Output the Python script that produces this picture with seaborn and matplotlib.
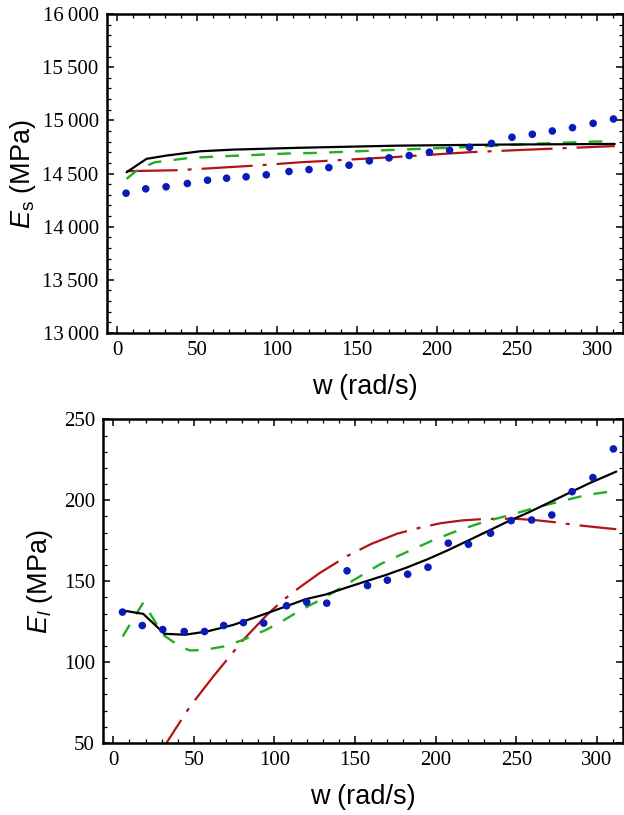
import matplotlib
matplotlib.use("Agg")
import matplotlib.pyplot as plt
from matplotlib.ticker import MultipleLocator, FuncFormatter
import seaborn as sns

# --- DATA ---
# measured frequencies (rad/s) for the experimental points
w_points = [5.7, 18.0, 30.7, 44.0, 56.6, 68.5, 80.7, 93.3, 107.5, 120.0, 132.4, 145.0, 157.7,
            170.0, 182.6, 195.2, 207.8, 220.3, 234.0, 246.8, 259.5, 272.0, 284.6, 297.5, 310.2]

# storage modulus Es (MPa)
es_points = [14315, 14356, 14375, 14406, 14437, 14456, 14469, 14488, 14519, 14537, 14556, 14578, 14619,
             14647, 14669, 14700, 14719, 14747, 14783, 14841, 14869, 14900, 14931, 14972, 15013]
es_black_w = [6, 18.5, 31, 52, 73, 114, 175, 239, 311]
es_black = [14512, 14638, 14669, 14709, 14725, 14742, 14762, 14772, 14778]
es_green_w = [6, 13.3, 23.7, 45.5, 66, 106, 125, 183, 220, 260, 298, 304]
es_green = [14450, 14538, 14606, 14647, 14662, 14688, 14694, 14728, 14750, 14779, 14800, 14802]
es_red_w = [6, 38, 87, 114, 176, 220, 250, 311]
es_red = [14522, 14531, 14575, 14605, 14657, 14700, 14720, 14758]

# loss modulus El (MPa)
el_points = [130.9, 122.6, 120.1, 118.9, 118.9, 122.6, 124.4, 124.1, 134.8, 137.0, 136.4, 156.4, 147.3,
             150.6, 154.3, 158.6, 173.5, 172.8, 179.6, 187.4, 187.8, 190.9, 205.3, 214.0, 231.7]
el_black_w = [5.8, 18.6, 31.7, 44.5, 58, 74.5, 95.3, 106.8, 119.4, 131.9, 144.5, 157, 169.6, 182.2,
              194.8, 207.3, 219.9, 232.5, 245, 257.6, 270.2, 282.7, 295.3, 312]
el_black = [131.9, 129.8, 117.5, 116.9, 118.9, 123.0, 130.2, 134.3, 138.9, 141.8, 146.0, 150.0, 154.0, 158.5,
            163.5, 169.0, 175.0, 181.0, 187.0, 192.5, 198.5, 204.5, 210.5, 217.7]
el_green_w = [5.8, 18.6, 31, 41.4, 47.6, 56, 68.3, 80.7, 95, 106, 116, 130.4, 148, 165.6, 182, 198.8,
              213, 228, 250, 263, 278, 294, 312]
el_green = [115.8, 136.8, 116.8, 109.6, 107.2, 107.5, 109.6, 113.8, 120.0, 126.0, 132.0, 139.5, 150.0, 160.5,
            168.0, 175.5, 181.0, 186.0, 192.0, 195.7, 199.5, 203.3, 206.0]
el_red_w = [25, 33.2, 47.6, 62, 80.7, 95.3, 105, 116, 128, 145, 160, 176, 190, 203, 216, 228, 240, 250,
            261, 274, 286, 299, 312]
el_red = [37.7, 50.4, 72.6, 91.1, 113.8, 129.2, 138.0, 146.5, 155.0, 165.5, 173.0, 179.3, 183.0, 185.8,
          187.5, 188.3, 188.6, 188.5, 187.8, 186.4, 184.8, 183.4, 182.1]

BLUE = "#0a1cb8"
GREEN = "#22ad22"
RED = "#b01414"

# --- STYLE ---
sns.set_style("ticks")
plt.rcParams["font.family"] = ["Liberation Serif", "DejaVu Serif"]
plt.rcParams["mathtext.fontset"] = "custom"
plt.rcParams["mathtext.rm"] = "Liberation Sans"
plt.rcParams["mathtext.it"] = "Liberation Sans:italic"
for key in ["axes.edgecolor", "xtick.color", "ytick.color", "text.color", "axes.labelcolor"]:
    plt.rcParams[key] = "black"

fig = plt.figure(figsize=(6.24, 8.15), dpi=100)
ax1 = fig.add_axes([0.1715, 0.5914, 0.8265, 0.3914])
ax2 = fig.add_axes([0.1655, 0.0883, 0.8325, 0.3972])


def thousands(v, pos):
    v = int(round(v))
    if v >= 10000:
        return f"{v // 1000}\u2009{v % 1000:03d}"
    return f"{v}"


def draw(ax, w_pts, pts, bw, bv, gw, gv, rw, rv):
    sns.lineplot(x=rw, y=rv, ax=ax, color=RED, linewidth=1.6, estimator=None,
                 linestyle=(0, (23, 4.5, 1.8, 4.5)))
    sns.lineplot(x=gw, y=gv, ax=ax, color=GREEN, linewidth=1.7, estimator=None,
                 linestyle=(0, (5.8, 5.2)))
    sns.lineplot(x=bw, y=bv, ax=ax, color="black", linewidth=1.6, estimator=None)
    sns.scatterplot(x=w_pts, y=pts, ax=ax, color=BLUE, s=30, edgecolor="none", zorder=5)

    ax.set_xlim(-6.2, 316)
    ax.xaxis.set_major_locator(MultipleLocator(50))
    ax.xaxis.set_minor_locator(MultipleLocator(10))
    ax.tick_params(which="both", direction="in", top=True, right=True, labelsize=15, pad=6)
    ax.tick_params(which="major", length=5, width=1.1)
    ax.tick_params(which="minor", length=3, width=0.9)
    for s in ax.spines.values():
        s.set_linewidth(1.8)
    ax.set_xlabel("w (rad/s)", fontsize=19.5, family="Liberation Sans", labelpad=10)


# --- TOP: Es ---
draw(ax1, w_points, es_points, es_black_w, es_black, es_green_w, es_green, es_red_w, es_red)
ax1.set_ylim(13000, 16000)
ax1.yaxis.set_major_locator(MultipleLocator(500))
ax1.yaxis.set_minor_locator(MultipleLocator(100))
ax1.yaxis.set_major_formatter(FuncFormatter(thousands))
ax1.set_ylabel(r"$E_\mathrm{s}$ (MPa)", fontsize=19.5, family="Liberation Sans", labelpad=3)

# --- BOTTOM: El ---
draw(ax2, w_points, el_points, el_black_w, el_black, el_green_w, el_green, el_red_w, el_red)
ax2.set_ylim(50, 250)
ax2.yaxis.set_major_locator(MultipleLocator(50))
ax2.yaxis.set_minor_locator(MultipleLocator(10))
ax2.set_ylabel(r"$E_l$ (MPa)", fontsize=19.5, family="Liberation Sans", labelpad=6)

fig.savefig("out.png", dpi=100)
